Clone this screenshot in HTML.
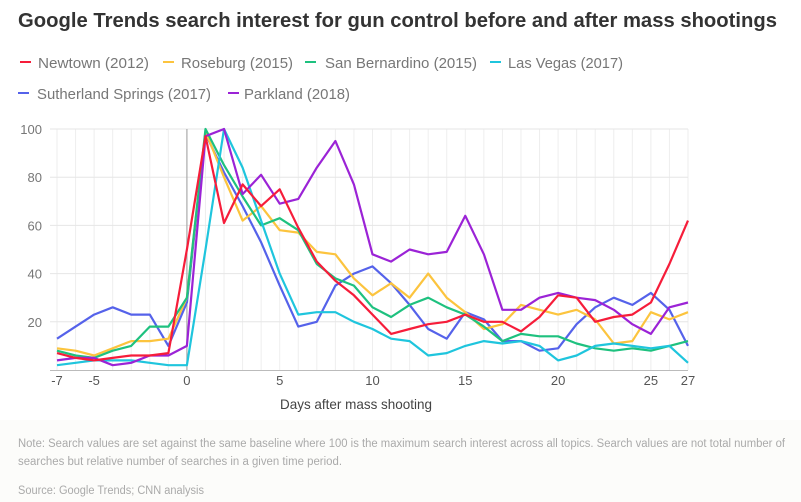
<!DOCTYPE html>
<html><head><meta charset="utf-8"><style>
html,body{margin:0;padding:0;background:#fff;}
svg{display:block;font-family:"Liberation Sans",sans-serif;}
</style></head><body>
<svg id="c" width="801" height="502" viewBox="0 0 801 502" xmlns="http://www.w3.org/2000/svg">
<rect x="0" y="420" width="801" height="82" fill="#fcfcfa"/>
<text x="18" y="27" font-size="20" font-weight="bold" fill="#333" textLength="759" lengthAdjust="spacingAndGlyphs">Google Trends search interest for gun control before and after mass shootings</text>
<g font-size="15" fill="#777">
<line x1="20" y1="62" x2="31" y2="62" stroke="#f61d3a" stroke-width="2"/><text x="38" y="68" textLength="111" lengthAdjust="spacingAndGlyphs">Newtown (2012)</text>
<line x1="163" y1="62" x2="174" y2="62" stroke="#fcc43e" stroke-width="2"/><text x="181" y="68" textLength="112" lengthAdjust="spacingAndGlyphs">Roseburg (2015)</text>
<line x1="305" y1="62" x2="316" y2="62" stroke="#1ec17f" stroke-width="2"/><text x="325" y="68" textLength="152" lengthAdjust="spacingAndGlyphs">San Bernardino (2015)</text>
<line x1="490" y1="62" x2="501" y2="62" stroke="#1fc5dd" stroke-width="2"/><text x="508" y="68" textLength="115" lengthAdjust="spacingAndGlyphs">Las Vegas (2017)</text>
<line x1="18" y1="93" x2="29" y2="93" stroke="#5562ea" stroke-width="2"/><text x="37" y="99" textLength="174" lengthAdjust="spacingAndGlyphs">Sutherland Springs (2017)</text>
<line x1="228" y1="93" x2="239" y2="93" stroke="#9b23d6" stroke-width="2"/><text x="244" y="99" textLength="106" lengthAdjust="spacingAndGlyphs">Parkland (2018)</text>
</g>
<g id="grid"></g>
<g id="lines"></g>
<text x="356" y="409" font-size="14" fill="#444" text-anchor="middle" textLength="152" lengthAdjust="spacingAndGlyphs">Days after mass shooting</text>
<g font-size="11.5" fill="#aaa">
<text x="18" y="447" textLength="767" lengthAdjust="spacingAndGlyphs">Note: Search values are set against the same baseline where 100 is the maximum search interest across all topics. Search values are not total number of</text>
<text x="18" y="465" textLength="324" lengthAdjust="spacingAndGlyphs">searches but relative number of searches in a given time period.</text>
<text x="18" y="494" textLength="186" lengthAdjust="spacingAndGlyphs">Source: Google Trends; CNN analysis</text>
</g>
</svg>
<script>
var NS="http://www.w3.org/2000/svg";
function X(d){return 57+(d+7)*631/34;}
function Y(v){return 370-v*2.41;}
function el(t,a,p,txt){var e=document.createElementNS(NS,t);for(var k in a)e.setAttribute(k,a[k]);if(txt!=null)e.textContent=txt;p.appendChild(e);return e;}
var g=document.getElementById('grid');
for(var d=-7;d<=27;d++){el('line',{x1:X(d),x2:X(d),y1:129,y2:370,stroke:'#eee','stroke-width':1},g);}
for(var v=20;v<=100;v+=20){el('line',{x1:50,x2:688,y1:Y(v),y2:Y(v),stroke:'#e6e6e6','stroke-width':1},g);
el('text',{x:42,y:Y(v)+5,'font-size':13,fill:'#777','text-anchor':'end'},g,String(v));}
el('line',{x1:X(0),x2:X(0),y1:129,y2:370,stroke:'#aaa','stroke-width':1.2},g);
el('line',{x1:50,x2:688,y1:370.5,y2:370.5,stroke:'#bbb','stroke-width':1},g);
[-7,-5,0,5,10,15,20,25,27].forEach(function(d){el('text',{x:X(d),y:385,'font-size':13,fill:'#555','text-anchor':'middle'},g,String(d));});
var S=[
['#5562ea',[13,18,23,26,23,23,10,28,98,82,68,53,35,18,20,35,40,43,36,27,17,13,24,21,12,12,8,9,19,26,30,27,32,25,10]],
['#fcc43e',[9,8,6,9,12,12,13,30,99,80,62,68,58,57,49,48,38,31,36,30,40,30,24,17,19,27,25,23,25,21,11,12,24,21,24]],
['#1ec17f',[8,6,5,8,10,18,18,30,100,85,72,60,63,58,44,38,35,26,22,27,30,26,23,18,12,15,14,14,11,9,8,9,8,10,12]],
['#1fc5dd',[2,3,4,4,4,3,2,2,50,100,84,62,40,23,24,24,20,17,13,12,6,7,10,12,11,12,10,4,6,10,11,10,9,10,3]],
['#9b23d6',[4,5,5,2,3,6,6,10,97,100,73,81,69,71,84,95,77,48,45,50,48,49,64,48,25,25,30,32,30,29,25,19,15,26,28]],
['#f61d3a',[7,5,4,5,6,6,7,50,97,61,77,68,75,59,45,37,31,23,15,17,19,20,23,20,20,16,22,31,30,20,22,23,28,44,62]]
];
var L=document.getElementById('lines');
S.forEach(function(s){var p=s[1].map(function(v,i){return X(i-7).toFixed(1)+','+Y(v).toFixed(1);}).join(' ');
el('polyline',{points:p,fill:'none',stroke:s[0],'stroke-width':2.2,'stroke-linejoin':'round'},L);});
</script>
</body></html>
